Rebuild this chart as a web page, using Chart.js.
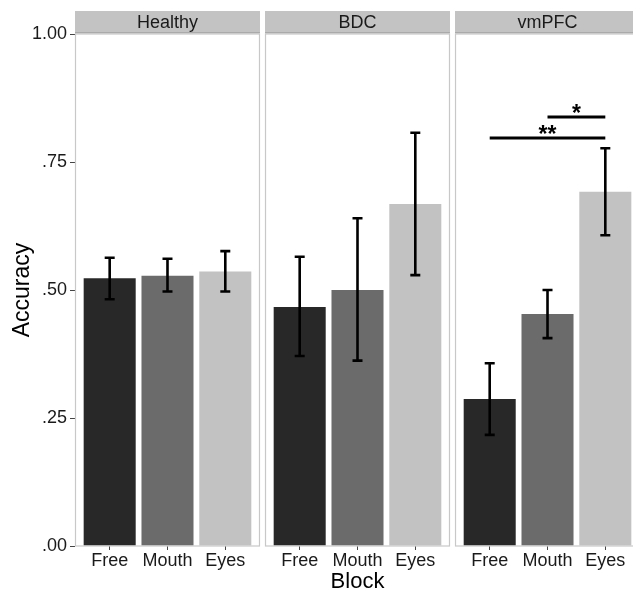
<!DOCTYPE html>
<html>
<head>
<meta charset="utf-8">
<script src="https://cdn.jsdelivr.net/npm/chart.js@4"></script>
<style>
html, body { margin: 0; padding: 0; background: #fff; overflow: hidden; }
</style>
</head>
<body>
<canvas id="graphique" width="640" height="589"></canvas>
<script>
// facets and bars
const groups = ['Healthy', 'BDC', 'vmPFC'];
const blocks = ['Free', 'Mouth', 'Eyes'];

// mean accuracy per block
const healthyAcc = [0.523, 0.528, 0.536];
const bdcAcc = [0.467, 0.500, 0.668];
const vmpfcAcc = [0.287, 0.453, 0.692];

// error bars [low, high]
const healthyErr = [[0.482, 0.563], [0.497, 0.561], [0.497, 0.576]];
const bdcErr = [[0.371, 0.565], [0.362, 0.640], [0.529, 0.807]];
const vmpfcErr = [[0.217, 0.357], [0.406, 0.500], [0.607, 0.777]];

// significance in vmPFC panel: [from block, to block, level, label]
const sigLines = [[0, 2, 0.797, '**'], [1, 2, 0.838, '*']];
const sigPanel = 2;

const yTicks = [0, 0.25, 0.5, 0.75, 1];
const barColors = ['#282828', '#6b6b6b', '#c2c2c2'];

const span = 3.2;   // 0.4 .. 3.6 like ggplot
const gap = 0.087;
const panelStart = k => k * (span + gap);

const accs = [healthyAcc, bdcAcc, vmpfcAcc];
const errs = [healthyErr, bdcErr, vmpfcErr];

const points = [];
const colors = [];
const lows = [];
const highs = [];
accs.forEach((arr, k) => {
  arr.forEach((v, j) => {
    points.push({ x: panelStart(k) + 0.6 + j, y: v });
    colors.push(barColors[j]);
    lows.push(errs[k][j][0]);
    highs.push(errs[k][j][1]);
  });
});

const font = "'Liberation Sans', Arial, sans-serif";
Chart.defaults.font.family = font;

const facets = {
  id: 'facets',
  beforeDatasetsDraw(chart) {
    const ctx = chart.ctx;
    const x = chart.scales.x;
    const top = chart.chartArea.top;
    ctx.save();
    groups.forEach((g, k) => {
      const l = x.getPixelForValue(panelStart(k));
      const r = x.getPixelForValue(panelStart(k) + span);
      ctx.fillStyle = '#c3c3c3';
      ctx.fillRect(l, top - 23, r - l, 22);
      ctx.fillStyle = '#aaaaaa';
      ctx.fillRect(l, top - 2, r - l, 1.5);
      ctx.fillStyle = '#1a1a1a';
      ctx.font = '18px ' + font;
      ctx.textAlign = 'center';
      ctx.textBaseline = 'middle';
      ctx.fillText(g, (l + r) / 2, top - 11);
    });
    ctx.restore();
  },
  afterDatasetsDraw(chart) {
    const ctx = chart.ctx;
    const x = chart.scales.x;
    const y = chart.scales.y;
    const { top, bottom } = chart.chartArea;
    const bars = chart.getDatasetMeta(0).data;
    ctx.save();
    // panel borders
    ctx.strokeStyle = '#c8c8c8';
    ctx.lineWidth = 1.2;
    groups.forEach((g, k) => {
      const l = x.getPixelForValue(panelStart(k));
      const r = x.getPixelForValue(panelStart(k) + span);
      ctx.strokeRect(l + 0.5, top, r - l - 1, bottom - top);
    });
    // error bars
    ctx.strokeStyle = '#000';
    ctx.lineWidth = 2.6;
    bars.forEach((b, i) => {
      const y0 = y.getPixelForValue(lows[i]);
      const y1 = y.getPixelForValue(highs[i]);
      ctx.beginPath();
      ctx.moveTo(b.x, y0); ctx.lineTo(b.x, y1);
      ctx.moveTo(b.x - 5, y0); ctx.lineTo(b.x + 5, y0);
      ctx.moveTo(b.x - 5, y1); ctx.lineTo(b.x + 5, y1);
      ctx.stroke();
    });
    // significance
    ctx.lineWidth = 3;
    ctx.fillStyle = '#000';
    ctx.font = 'bold 23px ' + font;
    ctx.textAlign = 'center';
    ctx.textBaseline = 'alphabetic';
    sigLines.forEach(([a, b, lvl, lab]) => {
      const xa = bars[sigPanel * 3 + a].x;
      const xb = bars[sigPanel * 3 + b].x;
      const py = y.getPixelForValue(lvl);
      ctx.beginPath();
      ctx.moveTo(xa, py); ctx.lineTo(xb, py);
      ctx.stroke();
      ctx.fillText(lab, (xa + xb) / 2, py + 4);
    });
    ctx.restore();
  }
};

const tickPos = points.map(p => p.x);

new Chart(document.getElementById('graphique'), {
  type: 'bar',
  data: {
    datasets: [{
      label: 'Accuracy',
      data: points,
      backgroundColor: colors,
      borderWidth: 0,
      barPercentage: 0.9,
      categoryPercentage: 1.0
    }]
  },
  options: {
    responsive: false,
    animation: false,
    devicePixelRatio: 1,
    layout: { padding: { top: 34, left: 11, right: 0, bottom: -4 } },
    plugins: { legend: { display: false }, tooltip: { enabled: false } },
    scales: {
      x: {
        type: 'linear',
        offset: false,
        min: 0,
        max: panelStart(2) + span,
        afterBuildTicks: s => { s.ticks = tickPos.map(v => ({ value: v })); },
        afterFit: s => { s.height = 47; },
        ticks: {
          autoSkip: false,
          maxRotation: 0,
          padding: 2,
          color: '#1a1a1a',
          font: { size: 18, lineHeight: 1 },
          callback: (v, i) => blocks[i % 3]
        },
        grid: { offset: false, drawOnChartArea: false, drawTicks: true, tickLength: 4, tickColor: '#444' },
        border: { display: false },
        title: { display: true, text: 'Block', color: '#000', font: { size: 22, lineHeight: 1 }, padding: { top: 0, bottom: 0 } }
      },
      y: {
        min: 0,
        max: 1,
        afterBuildTicks: s => { s.ticks = yTicks.map(v => ({ value: v })); },
        afterFit: s => { s.width = 64; },
        ticks: {
          padding: 3,
          color: '#1a1a1a',
          font: { size: 18, lineHeight: 1 },
          callback: v => v.toFixed(2).replace(/^0/, '')
        },
        grid: { drawOnChartArea: false, drawTicks: true, tickLength: 5, tickColor: '#444' },
        border: { display: false },
        title: { display: true, text: 'Accuracy', color: '#000', font: { size: 23, lineHeight: 1 }, padding: { top: 0, bottom: 4 } }
      }
    }
  },
  plugins: [facets]
});
</script>
</body>
</html>
